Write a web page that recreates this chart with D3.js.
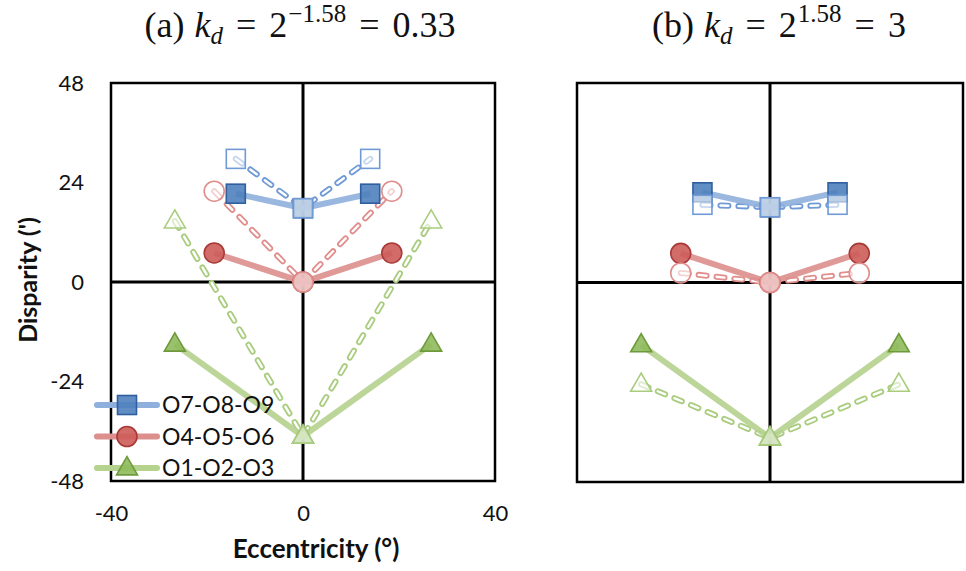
<!DOCTYPE html>
<html><head><meta charset="utf-8">
<script src="https://cdn.jsdelivr.net/npm/d3@7"></script>
<style>body{margin:0;background:#fff}svg{display:block}</style>
</head><body>
<svg id="c" width="966" height="571"></svg>
<script>
// ---- data ----
const xTicks = [-40, 0, 40];
const yTicks = [48, 24, 0, -24, -48];
const seriesNames = ["O7-O8-O9", "O4-O5-O6", "O1-O2-O3"];
// eccentricity positions (deg) per series
const eccBlue = [-14, 0, 14];
const eccRed = [-18.5, 0, 18.5];
const eccGreen = [-26.7, 0, 26.7];
// panel (a) k_d = 0.33 : solid = filled markers, dashed = hollow markers
const aBlueSolid = [21.3, 17.8, 21.3];
const aBlueDashed = [29.7, 17.8, 29.7];
const aRedSolid = [7, 0, 7];
const aRedDashed = [21.9, 0, 21.9];
const aGreenSolid = [-15, -37.2, -15];
const aGreenDashed = [14.7, -37.2, 14.7];
// panel (b) k_d = 3
const bBlueSolid = [21.7, 18.1, 21.7];
const bBlueDashed = [18.7, 18.1, 18.7];
const bRedSolid = [7, 0, 7];
const bRedDashed = [2.3, 0, 2.3];
const bGreenSolid = [-15, -37.4, -15];
const bGreenDashed = [-24.5, -37.4, -24.5];

const col = {
  blue:  {line:"#8fb0dc", fill:"#4f81bd", stroke:"#2f5f9e", hollow:"#6f9ad6"},
  red:   {line:"#dc8f8d", fill:"#cd5c59", stroke:"#a83a37", hollow:"#e08e8c"},
  green: {line:"#b5d28e", fill:"#8fba5c", stroke:"#6e9a3b", hollow:"#a9cc7e"}
};
const shape = {blue:"square", red:"circle", green:"triangle"};

const svg = d3.select("#c");
const tickFont = "Lato, 'Open Sans', sans-serif";

function marker(g, kind, cx, cy, fill, stroke, fillOp) {
  let m;
  if (kind === "square") {
    m = g.append("rect").attr("x", cx - 9.5).attr("y", cy - 9.5).attr("width", 19).attr("height", 19);
  } else if (kind === "circle") {
    m = g.append("circle").attr("cx", cx).attr("cy", cy).attr("r", 10);
  } else {
    const s = 21, h = s * Math.sqrt(3) / 2;
    m = g.append("path").attr("d", `M${cx},${cy - h*0.62}L${cx + s/2},${cy + h*0.38}L${cx - s/2},${cy + h*0.38}Z`);
  }
  m.attr("fill", fill).attr("fill-opacity", fillOp).attr("stroke", stroke).attr("stroke-width", 1.6).attr("stroke-linejoin", "miter");
}

function panel(x0, x1, y0, y1, data, showTicks) {
  const x = d3.scaleLinear().domain([-40, 40]).range([x0, x1]);
  const y = d3.scaleLinear().domain([-48, 48]).range([y1, y0]);
  const g = svg.append("g");
  g.append("rect").attr("x", x0).attr("y", y0).attr("width", x1 - x0).attr("height", y1 - y0)
    .attr("fill", "none").attr("stroke", "#000").attr("stroke-width", 2.5);
  g.append("line").attr("x1", x(0)).attr("x2", x(0)).attr("y1", y0).attr("y2", y1).attr("stroke", "#000").attr("stroke-width", 3);
  g.append("line").attr("x1", x0).attr("x2", x1).attr("y1", y(0)).attr("y2", y(0)).attr("stroke", "#000").attr("stroke-width", 3);

  if (showTicks) {
    const fmt = d => String(d);
    const ya = d3.axisLeft(y).tickValues(yTicks).tickFormat(fmt).tickSize(0).tickPadding(27);
    const gy = g.append("g").attr("transform", `translate(${x0},0)`).call(ya);
    gy.select(".domain").remove();
    gy.selectAll("text").attr("font-family", tickFont).attr("font-size", 22).attr("fill", "#111");
    const xa = d3.axisBottom(x).tickValues(xTicks).tickFormat(fmt).tickSize(0).tickPadding(24);
    const gx = g.append("g").attr("transform", `translate(0,${y1})`).call(xa);
    gx.select(".domain").remove();
    gx.selectAll("text").attr("font-family", tickFont).attr("font-size", 22).attr("fill", "#111");
  }

  const line = d3.line().x(d => x(d[0])).y(d => y(d[1]));
  data.forEach(s => {
    const pts = s.ecc.map((e, i) => [e, s.dashed[i]]);
    g.append("path").attr("d", line(pts)).attr("fill", "none").attr("stroke", col[s.c].hollow)
      .attr("stroke-width", 6).attr("stroke-dasharray", "8 10").attr("stroke-linecap", "round");
    g.append("path").attr("d", line(pts)).attr("fill", "none").attr("stroke", "#fff")
      .attr("stroke-width", 2.4).attr("stroke-dasharray", "8 10").attr("stroke-linecap", "round");
  });
  data.forEach(s => {
    const pts = s.ecc.map((e, i) => [e, s.solid[i]]);
    g.append("path").attr("d", line(pts)).attr("fill", "none").attr("stroke", col[s.c].line)
      .attr("stroke-width", 6).attr("stroke-opacity", 0.9);
  });
  data.forEach(s => {
    s.ecc.forEach((e, i) => marker(g, shape[s.c], x(e), y(s.solid[i]), col[s.c].fill, col[s.c].stroke, 0.9));
  });
  data.forEach(s => {
    s.ecc.forEach((e, i) => marker(g, shape[s.c], x(e), y(s.dashed[i]), "#fff", col[s.c].hollow, 0.6));
  });
  return {x, y};
}

panel(111, 495, 83, 481, [
  {c:"green", ecc:eccGreen, solid:aGreenSolid, dashed:aGreenDashed},
  {c:"red", ecc:eccRed, solid:aRedSolid, dashed:aRedDashed},
  {c:"blue", ecc:eccBlue, solid:aBlueSolid, dashed:aBlueDashed}
], true);
panel(577, 963, 83, 482, [
  {c:"green", ecc:eccGreen, solid:bGreenSolid, dashed:bGreenDashed},
  {c:"red", ecc:eccRed, solid:bRedSolid, dashed:bRedDashed},
  {c:"blue", ecc:eccBlue, solid:bBlueSolid, dashed:bBlueDashed}
], false);

// legend
const legKeys = ["blue", "red", "green"];
const lg = svg.append("g");
legKeys.forEach((k, i) => {
  const yy = 405 + i * 31.5;
  lg.append("line").attr("x1", 97).attr("x2", 157).attr("y1", yy).attr("y2", yy)
    .attr("stroke", col[k].line).attr("stroke-width", 6).attr("stroke-linecap", "round");
  marker(lg, shape[k], 127, yy, col[k].fill, col[k].stroke, 0.9);
  lg.append("text").attr("x", 162).attr("y", yy + 8).text(seriesNames[i])
    .attr("font-family", tickFont).attr("font-size", 23).attr("fill", "#111");
});

// axis titles
svg.append("text").attr("x", 316).attr("y", 558).attr("text-anchor", "middle")
  .attr("font-family", tickFont).attr("font-weight", "bold").attr("font-size", 26).attr("fill", "#111")
  .text("Eccentricity (°)");
svg.append("text").attr("transform", "translate(37,280) rotate(-90)").attr("text-anchor", "middle")
  .attr("font-family", tickFont).attr("font-weight", "bold").attr("font-size", 25).attr("fill", "#111")
  .text("Disparity (')");

// titles with math
function title(cx, label, expo, rhs) {
  const t = svg.append("text").attr("x", cx).attr("y", 37).attr("text-anchor", "middle")
    .attr("font-family", "'Liberation Serif', 'DejaVu Serif', serif").attr("font-size", 36).attr("fill", "#111");
  t.append("tspan").text(label);
  t.append("tspan").attr("dx", 10).attr("font-style", "italic").text("k");
  t.append("tspan").attr("font-style", "italic").attr("font-size", 25).attr("dy", 7).text("d");
  t.append("tspan").attr("dy", -7).attr("dx", 13).text("=");
  t.append("tspan").attr("dx", 13).text("2");
  t.append("tspan").attr("font-size", 25).attr("dy", -15).attr("dx", 1).text(expo);
  t.append("tspan").attr("dy", 15).attr("dx", 13).text("=");
  t.append("tspan").attr("dx", 13).text(rhs);
}
title(300, "(a)", "−1.58", "0.33");
title(779, "(b)", "1.58", "3");
</script>
</body></html>
